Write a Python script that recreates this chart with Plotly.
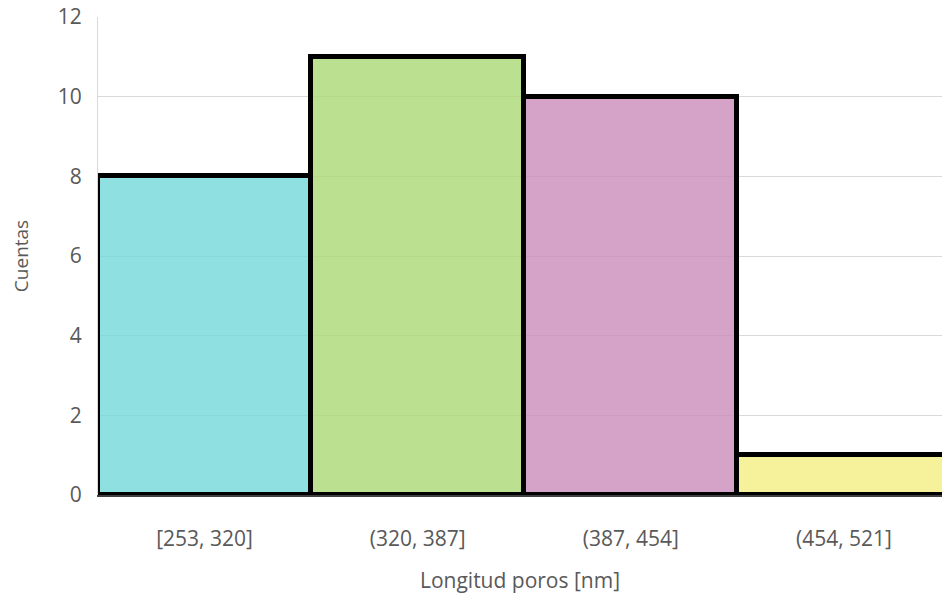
import plotly.graph_objects as go

# Histogram of pore lengths
bins = ["[253, 320]", "(320, 387]", "(387, 454]", "(454, 521]"]
counts = [8, 11, 10, 1]
fills = [
    "rgba(115,218,218,0.8)",
    "rgba(170,216,115,0.8)",
    "rgba(204,140,186,0.8)",
    "rgba(243,239,130,0.8)",
]

fig = go.Figure(
    go.Bar(
        x=list(range(len(bins))),
        y=counts,
        marker=dict(color=fills, line=dict(color="black", width=5)),
        width=1,
        hoverinfo="x+y",
    )
)

font = dict(family="Open Sans, sans-serif", color="#595959")

fig.update_layout(
    width=942,
    height=597,
    margin=dict(l=98, r=0, t=17, b=102),
    paper_bgcolor="white",
    plot_bgcolor="white",
    bargap=0,
    showlegend=False,
    font=font,
)

fig.update_xaxes(
    range=[-0.5, 3.46],
    tickmode="array",
    tickvals=list(range(len(bins))),
    ticktext=bins,
    tickfont=dict(size=21, color="#595959"),
    ticks="outside",
    ticklen=24,
    tickcolor="rgba(0,0,0,0)",
    showgrid=False,
    showline=True,
    linecolor="#404040",
    linewidth=2,
    zeroline=False,
    title=dict(text="Longitud poros [nm]", font=dict(size=21, color="#595959"), standoff=22),
)

fig.update_yaxes(
    range=[0, 12],
    dtick=2,
    tickfont=dict(size=21, color="#595959"),
    ticks="outside",
    ticklen=11,
    tickcolor="rgba(0,0,0,0)",
    showgrid=True,
    gridcolor="#D9D9D9",
    gridwidth=1,
    zeroline=False,
    showline=True,
    linecolor="#D9D9D9",
    linewidth=1,
    title=dict(text="Cuentas", font=dict(size=19, color="#595959"), standoff=24),
)

fig.write_html("out.html")
